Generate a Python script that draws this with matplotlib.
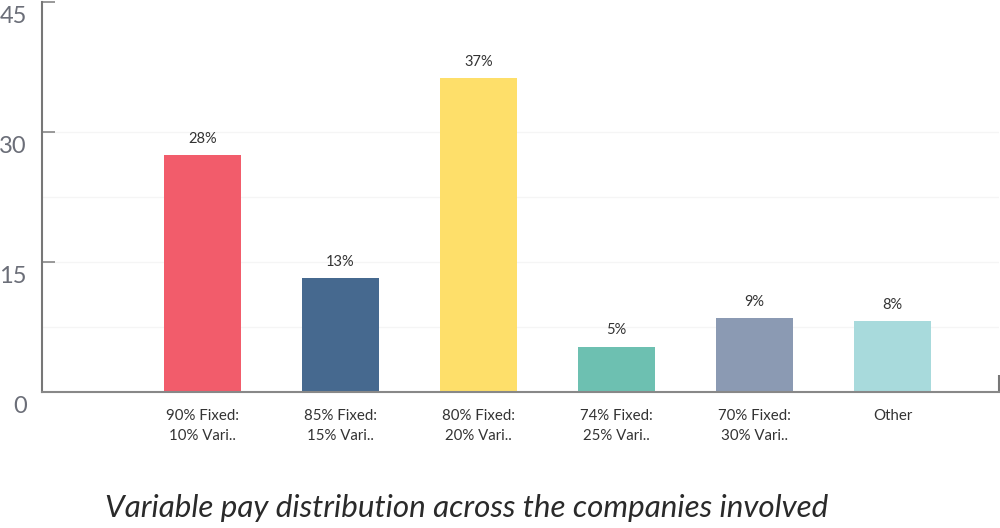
import matplotlib
matplotlib.use("Agg")
import matplotlib.pyplot as plt
import matplotlib.transforms as mtransforms

categories = ["90% Fixed:\n10% Vari..", "85% Fixed:\n15% Vari..", "80% Fixed:\n20% Vari..",
              "74% Fixed:\n25% Vari..", "70% Fixed:\n30% Vari..", "Other"]
values = [27.3, 13.1, 36.2, 5.2, 8.5, 8.15]
value_labels = ["28%", "13%", "37%", "5%", "9%", "8%"]
colors = ["#F25C6B", "#46698F", "#FEDF6A", "#6DC0B1", "#8B9AB3", "#A8DADC"]
y_ticks = [0, 15, 30, 45]
title = "Variable pay distribution across the companies involved"

plt.rcParams["font.family"] = ["Lato", "DejaVu Sans"]

fig = plt.figure(figsize=(10, 5.28), dpi=100)
ax = fig.add_axes([0.042, 1 - 392 / 528, 0.957, 390 / 528])

x = list(range(len(categories)))
bars = ax.bar(x, values, width=0.56, color=colors, zorder=2)

for b, lab in zip(bars, value_labels):
    ax.annotate(lab, (b.get_x() + b.get_width() / 2, b.get_height()),
                xytext=(0, 7), textcoords="offset points", ha="center", va="bottom",
                fontsize=10.5, color="#333333")

ax.set_xlim(-1.16, 5.77)
ax.set_ylim(0, 45)

# faint grid every 7.5
for g in [7.5, 15, 22.5, 30]:
    ax.axhline(g, color="#f5f5f5", lw=1, zorder=0)

ax.set_yticks(y_ticks)
ax.tick_params(axis="y", direction="in", length=9, width=1.2, color="#888888",
               labelsize=17, labelcolor="#6b6e78", pad=11)
offset = mtransforms.ScaledTranslation(0, -9 / 72, fig.dpi_scale_trans)
for lbl in ax.get_yticklabels():
    lbl.set_transform(lbl.get_transform() + offset)

ax.set_xticks(x)
ax.set_xticklabels(categories, fontsize=10.8, color="#333333", linespacing=1.6)
ax.tick_params(axis="x", length=0, pad=12)
ax.set_xticks([5.77], minor=True)
ax.tick_params(axis="x", which="minor", direction="in", length=12, width=1.5, color="#777777")

for s in ["top", "right"]:
    ax.spines[s].set_visible(False)
ax.spines["left"].set_color("#777777")
ax.spines["left"].set_linewidth(1.5)
ax.spines["bottom"].set_color("#888888")
ax.spines["bottom"].set_linewidth(1.5)

fig.text(0.467, 1 - 508 / 528, title, ha="center", va="center", fontsize=22.6,
         style="italic", color="#2a2a2a")

fig.savefig("out.png", dpi=100)
